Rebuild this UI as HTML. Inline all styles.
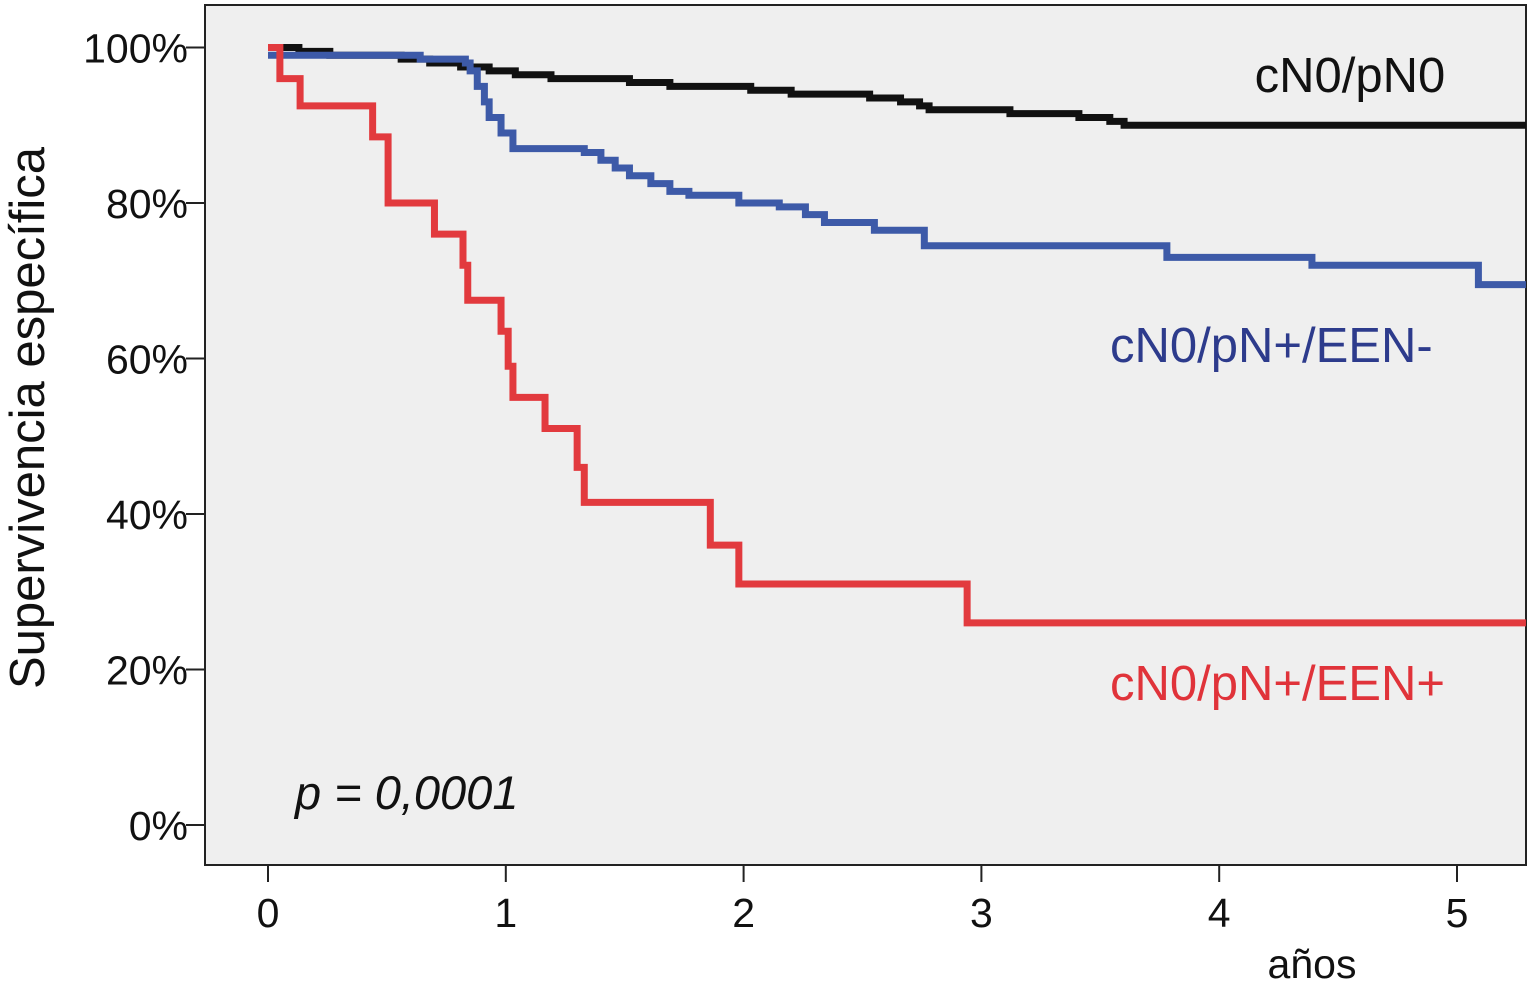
<!DOCTYPE html>
<html><head><meta charset="utf-8"><style>
html,body{margin:0;padding:0;background:#fff;}
svg{display:block;font-family:"Liberation Sans",Arial,sans-serif;}
</style></head><body>
<svg id="chart" width="1529" height="1000">
<rect x="205" y="5" width="1321" height="860" fill="#efefef" stroke="#222" stroke-width="2"/>
<g id="axes"></g>
<g id="series"></g>
<text x="1350" y="92" font-size="49" text-anchor="middle" fill="#111">cN0/pN0</text>
<text x="1110" y="362" font-size="49" fill="#2d3b8c">cN0/pN+/EEN-</text>
<text x="1110" y="700" font-size="49" fill="#e0333a">cN0/pN+/EEN+</text>
<text x="295" y="809" font-size="47" font-style="italic" fill="#111">p = 0,0001</text>
<text transform="translate(44,418) rotate(-90)" font-size="49" text-anchor="middle" fill="#111">Supervivencia específica</text>
<text x="1312" y="978" font-size="41" text-anchor="middle" fill="#111">años</text>
</svg>
<script>
const xTicks=[0,1,2,3,4,5];
const yTicks=[0,20,40,60,80,100];
const yTickLabels=["0%","20%","40%","60%","80%","100%"];
const redTimes=[0,0.05,0.135,0.44,0.505,0.70,0.82,0.84,0.98,1.01,1.03,1.165,1.30,1.33,1.86,1.98,2.94];
const redVals=[100,96,92.5,88.5,80,76,72,67.5,63.5,59,55,51,46,41.5,36,31,26];
const blueTimes=[0,0.64,0.83,0.85,0.88,0.91,0.93,0.98,1.03,1.33,1.40,1.46,1.52,1.61,1.69,1.77,1.98,2.15,2.26,2.34,2.55,2.76,3.78,4.39,5.09];
const blueVals=[99,98.5,98,97,95,93,91,89,87,86.5,85.5,84.5,83.5,82.5,81.5,81,80,79.5,78.5,77.5,76.5,74.5,73,72,69.5];
const blackTimes=[0,0.13,0.26,0.56,0.68,0.81,0.93,1.04,1.19,1.52,1.69,2.03,2.20,2.53,2.66,2.74,2.78,3.12,3.41,3.54,3.60];
const blackVals=[100,99.5,99,98.5,98,97.5,97,96.5,96,95.5,95,94.5,94,93.5,93,92.5,92,91.5,91,90.5,90];
const tEnd=5.29;
const NS="http://www.w3.org/2000/svg";
function X(t){return 268+t*237.8;}
function Y(v){return 825-v*7.775;}
const axes=document.getElementById('axes');
function mk(tag,attrs,parent){const e=document.createElementNS(NS,tag);for(const k in attrs)e.setAttribute(k,attrs[k]);parent.appendChild(e);return e;}
yTicks.forEach((v,i)=>{
 const l=mk('line',{x1:186,x2:205,y1:Y(v),y2:Y(v),stroke:'#222','stroke-width':2},axes);
 
 
 const t=mk('text',{x:188,y:Y(v)+15,'font-size':41,'text-anchor':'end',fill:'#111'},axes);
 t.textContent=yTickLabels[i];
 
 
});
xTicks.forEach(v=>{
 const l=mk('line',{x1:X(v),x2:X(v),y1:865,y2:882,stroke:'#222','stroke-width':2},axes);
 
 
 const t=mk('text',{x:X(v),y:927,'font-size':41,'text-anchor':'middle',fill:'#111'},axes);
 t.textContent=String(v);
 
 
});
const series=document.getElementById('series');
function step(times,vals,color,name){
 let d='M'+X(times[0])+','+Y(vals[0]);
 for(let i=1;i<times.length;i++){d+=' H'+X(times[i])+' V'+Y(vals[i]);}
 d+=' H'+X(tEnd);
 const p=mk('path',{d:d,fill:'none',stroke:color,'stroke-width':7},series);
 
 
}
step(blackTimes,blackVals,'#111','curve-cn0-pn0');
step(blueTimes,blueVals,'#3d5aa8','curve-cn0-pn-een-minus');
step(redTimes,redVals,'#e23a3e','curve-cn0-pn-een-plus');
</script>
</body></html>
